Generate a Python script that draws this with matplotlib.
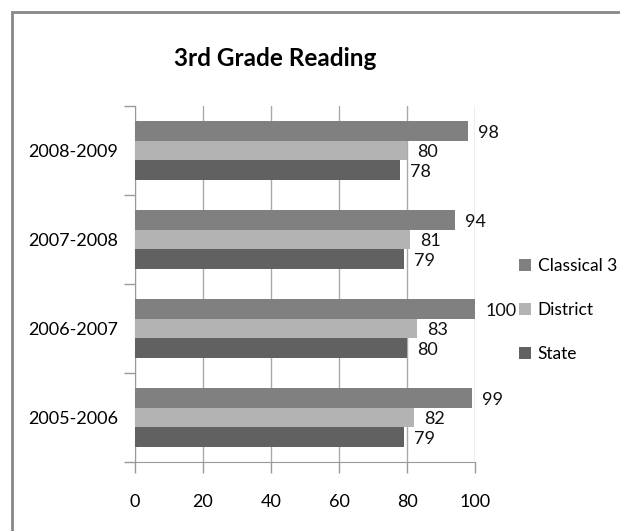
import matplotlib.pyplot as plt
import numpy as np
from matplotlib.patches import Rectangle

years = ["2005-2006", "2006-2007", "2007-2008", "2008-2009"]
classical = [99, 100, 94, 98]
district = [82, 83, 81, 80]
state = [79, 80, 79, 78]

series = ["Classical 3", "District", "State"]
colors = ["#808080", "#b3b3b3", "#616161"]

plt.rcParams["font.family"] = ["Lato", "DejaVu Sans"]

fig = plt.figure(figsize=(6.2, 5.31), dpi=100)
ax = fig.add_axes([135 / 620, 1 - 462 / 531, 340 / 620, 356 / 531])

y = np.arange(len(years))
h = 0.222
offsets = [h, 0, -h]
for vals, off, c, name in zip([classical, district, state], offsets, colors, series):
    bars = ax.barh(y + off, vals, height=h, color=c, label=name, zorder=3)
    for b, v in zip(bars, vals):
        ax.text(v + 3, b.get_y() + h / 2 - 0.02, str(v), va="center", ha="left",
                fontsize=13, color="#111111")

ax.set_xlim(0, 100)
ax.set_ylim(-0.5, len(years) - 0.5)
ax.set_xticks(range(0, 101, 20))
ax.set_yticks(y)
ax.set_yticklabels(years)
ax.set_yticks(np.arange(-0.5, len(years), 1), minor=True)
ax.tick_params(axis="y", which="major", length=0, pad=12, labelsize=13)
ax.tick_params(axis="y", which="minor", length=8, color="#999999", width=1)
ax.tick_params(axis="x", length=8, color="#999999", width=1, pad=15, labelsize=13)
ax.grid(axis="x", color="#aaaaaa", linewidth=1, zorder=0)
for s in ["top", "right"]:
    ax.spines[s].set_visible(False)
for s in ["left", "bottom"]:
    ax.spines[s].set_color("#999999")

fig.text(275 / 620, 1 - 58 / 531, "3rd Grade Reading", ha="center", va="center",
         fontsize=17.5, fontweight="bold")

handles, labels = ax.get_legend_handles_labels()
fig.legend(handles, labels, loc="center left", bbox_to_anchor=(503 / 620, 1 - 310 / 531),
           frameon=False, fontsize=12.5, handlelength=0.7, handleheight=0.7,
           handletextpad=0.4, labelspacing=1.6)

fig.patches.append(Rectangle((12 / 620, -0.1), 1.2, 1 - 12 / 531 + 0.1,
                             transform=fig.transFigure, fill=False,
                             edgecolor="#888888", linewidth=2))

fig.savefig("out.png", dpi=100)
